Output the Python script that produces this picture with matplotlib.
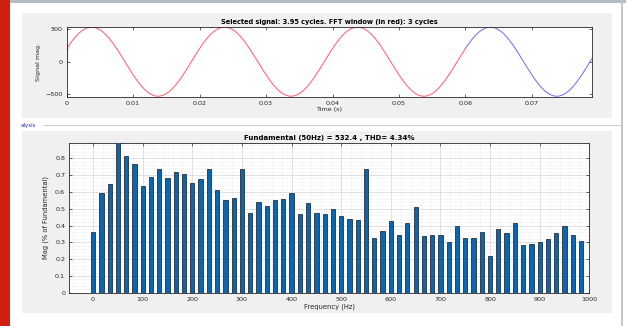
import numpy as np
import matplotlib
matplotlib.use("Agg")
import matplotlib.pyplot as plt
from matplotlib.patches import Rectangle
from matplotlib.lines import Line2D
from matplotlib.ticker import MultipleLocator, AutoMinorLocator

# ── Signal parameters ──────────────────────────────────────────────────────
SIG_AMP     = 532.4     # peak of the sine
SIG_FREQ    = 50.0      # Hz
SIG_T0      = -0.00125  # upward zero crossing before t=0
SIG_END     = 0.079     # 3.95 cycles
FFT_WIN_END = 0.06      # 3 cycles in red
SIG_DT      = 2e-4

# ── FFT bars: % of fundamental, 50/3 Hz resolution ─────────────────────────
freq_step = 50.0 / 3.0
mag_pct = [
    0.36, 0.595, 0.645, 100.0, 0.814, 0.768, 0.637, 0.687, 0.737, 0.685,
    0.72, 0.705, 0.655, 0.679, 0.737, 0.611, 0.553, 0.561, 0.737, 0.473,
    0.541, 0.519, 0.553, 0.557, 0.595, 0.471, 0.535, 0.474, 0.467, 0.50,
    0.458, 0.44, 0.435, 0.737, 0.326, 0.365, 0.427, 0.341, 0.413, 0.509,
    0.335, 0.343, 0.343, 0.299, 0.399, 0.327, 0.323, 0.359, 0.221, 0.379,
    0.357, 0.415, 0.281, 0.289, 0.299, 0.319, 0.355, 0.399, 0.341, 0.307,
]
freqs = np.arange(len(mag_pct)) * freq_step

title_top = "Selected signal: 3.95 cycles. FFT window (in red): 3 cycles"
title_bot = "Fundamental (50Hz) = 532.4 , THD= 4.34%"

AX_COL = "#262626"
TICK_FS = 4.6

fig = plt.figure(figsize=(6.26, 3.26), dpi=100)
fig.patch.set_facecolor("white")

# ── GUI chrome (behind the axes) ───────────────────────────────────────────
W, H = 626.0, 326.0
def frect(x0, y0, x1, y1, **kw):
    fig.patches.append(Rectangle((x0 / W, 1 - y1 / H), (x1 - x0) / W, (y1 - y0) / H,
                                 transform=fig.transFigure, zorder=-5, **kw))

frect(0, 0, 10, 326, facecolor="#d11f12", edgecolor="none")
frect(10, 0, 626, 3, facecolor="#b4bcc4", edgecolor="none")
frect(621, 0, 623, 326, facecolor="#c4c8cc", edgecolor="none")
frect(22, 13, 612, 118, facecolor="#f0f0f0", edgecolor="none")
frect(22, 131, 612, 313, facecolor="#f0f0f0", edgecolor="none")
fig.lines.append(Line2D([43 / W, 620 / W], [1 - 125 / H] * 2, transform=fig.transFigure,
                        color="#d0d0d0", lw=0.8, zorder=-5))
fig.text(21 / W, 1 - 125 / H, "alysis", color="#2030c0", fontsize=4, va="center")


def style_axes(ax):
    for s in ax.spines.values():
        s.set_color(AX_COL)
        s.set_linewidth(0.6)
    ax.tick_params(direction="in", top=True, right=True, length=2.5, width=0.5,
                   labelsize=TICK_FS, colors=AX_COL, pad=3)
    ax.tick_params(which="minor", length=0)


# ── Top: time signal ───────────────────────────────────────────────────────
ax1 = fig.add_axes([66.7 / W, 1 - 96.7 / H, 525 / W, 70 / H])
t = np.arange(0, SIG_END + SIG_DT / 2, SIG_DT)
sig = SIG_AMP * np.sin(2 * np.pi * SIG_FREQ * (t - SIG_T0))
sig[0] = 0.0
red = t <= FFT_WIN_END + 1e-9
blue = t >= FFT_WIN_END - 1e-9
ax1.plot(t[blue], sig[blue], color="#6a6aff", lw=0.7)
ax1.plot(t[red], sig[red], color="#ff5a6a", lw=0.7)
ax1.set_xlim(0, SIG_END)
ax1.set_ylim(-540, 540)
ax1.set_xticks(np.arange(0, 0.071, 0.01))
ax1.set_xticklabels(["0", "0.01", "0.02", "0.03", "0.04", "0.05", "0.06", "0.07"])
ax1.set_yticks([-500, 0, 500])
style_axes(ax1)
ax1.set_title(title_top, fontsize=4.8, fontweight="bold", pad=2, color="black")
ax1.set_xlabel("Time (s)", fontsize=TICK_FS, labelpad=1, color=AX_COL)
ax1.set_ylabel("Signal mag.", fontsize=TICK_FS, labelpad=3, color=AX_COL)

# ── Bottom: FFT bars ───────────────────────────────────────────────────────
ax2 = fig.add_axes([69.3 / W, 1 - 292.7 / H, 520 / W, 150 / H])
ax2.bar(freqs, mag_pct, width=8.6, color="#0a66b2", edgecolor="#101820", linewidth=0.5,
        zorder=3)
ax2.set_xlim(-48, 1000)
ax2.set_ylim(0, 0.893)
ax2.xaxis.set_major_locator(MultipleLocator(100))
ax2.yaxis.set_major_locator(MultipleLocator(0.1))
ax2.xaxis.set_minor_locator(AutoMinorLocator(5))
ax2.yaxis.set_minor_locator(AutoMinorLocator(5))
ax2.yaxis.set_major_formatter(plt.FuncFormatter(lambda v, p: "0" if abs(v) < 1e-9 else "%.1f" % v))
ax2.grid(True, which="major", color="#d4d4d4", lw=0.5, zorder=0)
ax2.grid(True, which="minor", color="#dcdcdc", lw=0.4, ls=(0, (1, 1.5)), zorder=0)
ax2.set_axisbelow(True)
style_axes(ax2)
ax2.set_title(title_bot, fontsize=5, fontweight="bold", pad=2, color="black")
ax2.set_xlabel("Frequency (Hz)", fontsize=TICK_FS + 0.3, labelpad=1, color=AX_COL)
ax2.set_ylabel("Mag (% of Fundamental)", fontsize=TICK_FS + 0.3, labelpad=4, color=AX_COL)

fig.savefig("out.png", dpi=100, facecolor=fig.get_facecolor())
